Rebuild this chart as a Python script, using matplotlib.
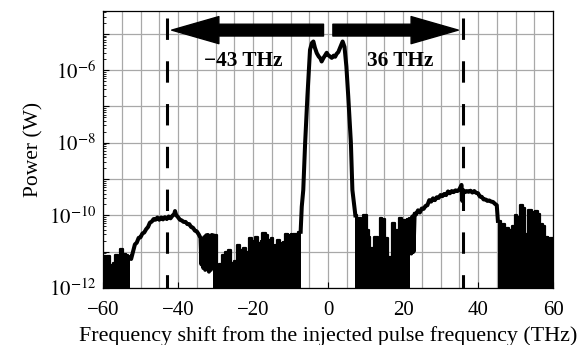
import numpy as np
import matplotlib
matplotlib.use('Agg')
from matplotlib import pyplot as plt
from matplotlib import ticker
from matplotlib.patches import FancyArrowPatch

plt.rcParams['font.family'] = ['Liberation Serif', 'DejaVu Serif']
plt.rcParams['mathtext.fontset'] = 'stix'
plt.rcParams['font.size'] = 15

# Spectrum: frequency shift (THz), log10 of power (W).
# Noise-floor stretches: the trace swings from these tops down below 1e-12
# so fast that it prints as solid black; given as column starts and tops.
noise_a_f = [-60.0, -59.3, -58.9, -58.2, -57.3, -56.8, -56.0, -55.5, -54.8, -54.0,
             -53.4, -52.8]
noise_a_p = [-11.12, -11.2, -11.12, -11.36, -11.3, -11.1, -11.15, -10.93, -11.05, -11.1,
             -11.15, -11.15]

noise_b_f = [-30.7, -29.5, -29.0, -28.4, -27.4, -26.8, -26.0, -25.0, -24.4, -23.4,
             -22.8, -21.8, -21.2, -20.2, -19.5, -18.6, -18.0, -17.5, -16.6, -16.0,
             -15.3, -14.7, -14.3, -14.1, -13.6, -12.7, -12.1, -11.4, -10.6, -10.0,
             -9.6, -9.4, -8.6, -7.9, -7.3]
noise_b_p = [-10.55, -11.6, -11.35, -11.1, -11.0, -10.95, -11.3, -11.25, -10.82, -10.95,
             -10.9, -11.0, -10.63, -10.7, -10.59, -10.75, -10.7, -10.48, -10.55, -10.68,
             -10.63, -10.82, -11.41, -10.82, -10.68, -10.75, -10.72, -10.5, -10.55, -10.5,
             -10.9, -10.5, -10.52, -10.45, -10.45]

noise_c_f = [7.3, 7.65, 8.1, 8.8, 9.4, 10.3, 10.8, 11.2, 12.2, 13.2,
             13.8, 14.5, 15.2, 16.1, 17.0, 17.9, 18.8, 19.6, 20.5, 21.0,
             21.9]
noise_c_p = [-10.0, -10.5, -10.08, -10.15, -10.0, -10.4, -10.6, -10.91, -10.59, -11.17,
             -10.07, -10.1, -10.63, -11.14, -10.2, -10.4, -10.08, -10.12, -10.13, -10.1,
             -10.1]

noise_d_f = [45.3, 46.2, 47.2, 48.2, 49.0, 49.8, 50.5, 51.2, 51.9, 52.5,
             53.4, 54.3, 55.2, 56.0, 56.5, 57.2, 57.8, 58.7, 60.0]
noise_d_p = [-10.15, -10.25, -10.36, -10.4, -10.3, -10.0, -10.05, -9.71, -9.8, -10.5,
             -9.85, -9.9, -9.88, -9.95, -10.25, -10.3, -10.59, -10.63, -10.63]

# continuous parts of the trace
lobe_l_f = [-52.8, -52.5, -52.0, -51.5, -51.0, -50.5, -50.0, -49.5, -49.0, -48.5,
            -48.0, -47.5, -47.0, -46.5, -46.0, -45.5, -45.0, -44.5, -44.0, -43.5,
            -43.0, -42.5, -42.0, -41.5, -41.0, -40.8, -40.5, -40.0, -39.5, -39.0,
            -38.5, -38.0, -37.5, -37.0, -36.5, -36.0, -35.5, -35.0, -34.5, -34.0,
            -33.75, -33.5, -33.25, -33.0, -32.75, -32.5, -32.25, -32.0, -31.75, -31.5,
            -31.25, -31.0, -30.7]
lobe_l_p = [-11.15, -11.2, -11.0, -10.8, -10.75, -10.62, -10.6, -10.5, -10.47, -10.38,
            -10.32, -10.2, -10.17, -10.1, -10.12, -10.06, -10.12, -10.06, -10.11, -10.05,
            -10.1, -10.03, -10.08, -10.01, -9.96, -9.88, -9.99, -10.05, -10.12, -10.14,
            -10.18, -10.18, -10.24, -10.24, -10.32, -10.34, -10.42, -10.44, -10.52, -10.62,
            -11.35, -10.72, -11.45, -10.6, -11.5, -10.55, -11.4, -10.54, -11.55, -10.6,
            -11.5, -10.54, -10.55]

pulse_f = [-7.3, -7.0, -6.6, -6.1, -5.5, -4.8, -4.3, -3.9, -3.5, -3.0,
           -2.5, -2.0, -1.7, -1.2, -0.7, -0.35, 0.0, 0.5, 1.0, 1.5,
           1.9, 2.3, 2.75, 3.3, 3.9, 4.4, 4.9, 5.4, 6.1, 6.5,
           6.9, 7.3]
pulse_p = [-10.45, -9.76, -9.3, -8.0, -6.73, -5.44, -5.25, -5.21, -5.38, -5.53,
           -5.62, -5.68, -5.76, -5.66, -5.58, -5.52, -5.58, -5.62, -5.66, -5.6,
           -5.63, -5.55, -5.5, -5.36, -5.21, -5.36, -5.9, -6.73, -8.0, -9.3,
           -9.65, -10.0]

lobe_r_f = [21.9, 22.2, 22.5, 22.8, 23.1, 23.5, 24.0, 24.5, 25.0, 25.5,
            26.0, 26.5, 27.0, 27.5, 28.0, 28.5, 29.0, 29.5, 30.0, 30.5,
            31.0, 31.5, 32.0, 32.5, 33.0, 33.5, 34.0, 34.5, 35.0, 35.6,
            35.8, 36.0, 36.5, 37.0, 37.5, 38.0, 38.5, 39.0, 39.5, 40.0,
            40.5, 41.0, 41.5, 42.0, 42.5, 43.0, 43.5, 44.0, 44.5, 45.0,
            45.3]
lobe_r_p = [-10.1, -11.05, -10.03, -11.0, -9.95, -9.97, -9.86, -9.92, -9.81, -9.82,
            -9.74, -9.72, -9.58, -9.62, -9.53, -9.58, -9.5, -9.52, -9.44, -9.47,
            -9.41, -9.44, -9.34, -9.39, -9.33, -9.36, -9.31, -9.33, -9.29, -9.16,
            -9.6, -9.3, -9.36, -9.33, -9.35, -9.32, -9.37, -9.33, -9.38, -9.39,
            -9.48, -9.49, -9.56, -9.56, -9.6, -9.59, -9.62, -9.63, -9.68, -9.72,
            -10.15]

edge_l, edge_r = -43, 36          # dashed markers (THz)
label_l, label_r = '\u221243 THz', '36 THz'

fig = plt.figure(figsize=(5.86, 3.45), dpi=100)
ax = fig.add_axes([0.1758, 0.1652, 0.7679, 0.8029])

for nf, npw in ((noise_a_f, noise_a_p), (noise_b_f, noise_b_p),
                (noise_c_f, noise_c_p), (noise_d_f, noise_d_p)):
    top = 10.0 ** np.array(npw)
    ax.fill_between(nf, top, 1e-13, step='post', color='black', lw=0, zorder=3)
    ax.step(nf, top, where='post', color='black', lw=1.6, zorder=3)

for cf, cp in ((lobe_l_f, lobe_l_p), (pulse_f, pulse_p), (lobe_r_f, lobe_r_p)):
    ax.plot(cf, 10.0 ** np.array(cp), color='black', lw=2.9, zorder=3)

ax.set_yscale('log')
ax.set_xlim(-60, 60)
ax.set_ylim(1e-12, 10 ** -4.37)

ax.xaxis.set_major_locator(ticker.MultipleLocator(20))
ax.xaxis.set_minor_locator(ticker.MultipleLocator(5))
ax.yaxis.set_major_locator(ticker.LogLocator(base=10, numticks=20))
ax.yaxis.set_minor_locator(ticker.LogLocator(base=10, subs=np.arange(2, 10), numticks=20))
ax.yaxis.set_minor_formatter(ticker.NullFormatter())


def ylab(v, pos):
    e = int(round(np.log10(v)))
    return r'$10^{%d}$' % e if e % 2 == 0 else ''


ax.yaxis.set_major_formatter(ticker.FuncFormatter(ylab))

ax.grid(True, which='major', axis='y', color='#a8a8a8', lw=0.9)
ax.grid(True, which='both', axis='x', color='#a8a8a8', lw=0.9)
ax.set_axisbelow(True)
ax.tick_params(which='major', direction='in', length=4, width=0.8, labelsize=15)
ax.tick_params(which='minor', direction='in', length=2, width=0.6)
ax.tick_params(axis='x', which='minor', length=0)
ax.tick_params(axis='x', pad=9)
ax.tick_params(axis='y', pad=5)
for s in ax.spines.values():
    s.set_linewidth(0.9)
    s.set_zorder(6)

# dashed markers
for xe in (edge_l, edge_r):
    ax.plot([xe, xe], [10 ** -4.57, 1e-12], color='black', lw=2.2,
            dashes=(7, 7), zorder=4)

# arrows
tr = ax.get_xaxis_transform()
style = 'simple,head_length=34,head_width=19.5,tail_width=8.5'
for start, tip in ((-1.2, -41.7), (1.3, 34.75)):
    arr = FancyArrowPatch((start, 0.931), (tip, 0.931), transform=tr,
                          arrowstyle=style, mutation_scale=1,
                          shrinkA=0, shrinkB=0, color='black', zorder=5)
    ax.add_patch(arr)

ax.text(-22.7, 0.8195, label_l, transform=tr, ha='center', va='center',
        fontsize=15.3, fontweight='bold', zorder=5)
ax.text(19.2, 0.8195, label_r, transform=tr, ha='center', va='center',
        fontsize=15.3, fontweight='bold', zorder=5)

ax.set_xlabel('Frequency shift from the injected pulse frequency (THz)', fontsize=15.8, labelpad=4.5)
ax.set_ylabel('Power (W)', fontsize=15.5, labelpad=4)

fig.savefig('out.png', dpi=100)
